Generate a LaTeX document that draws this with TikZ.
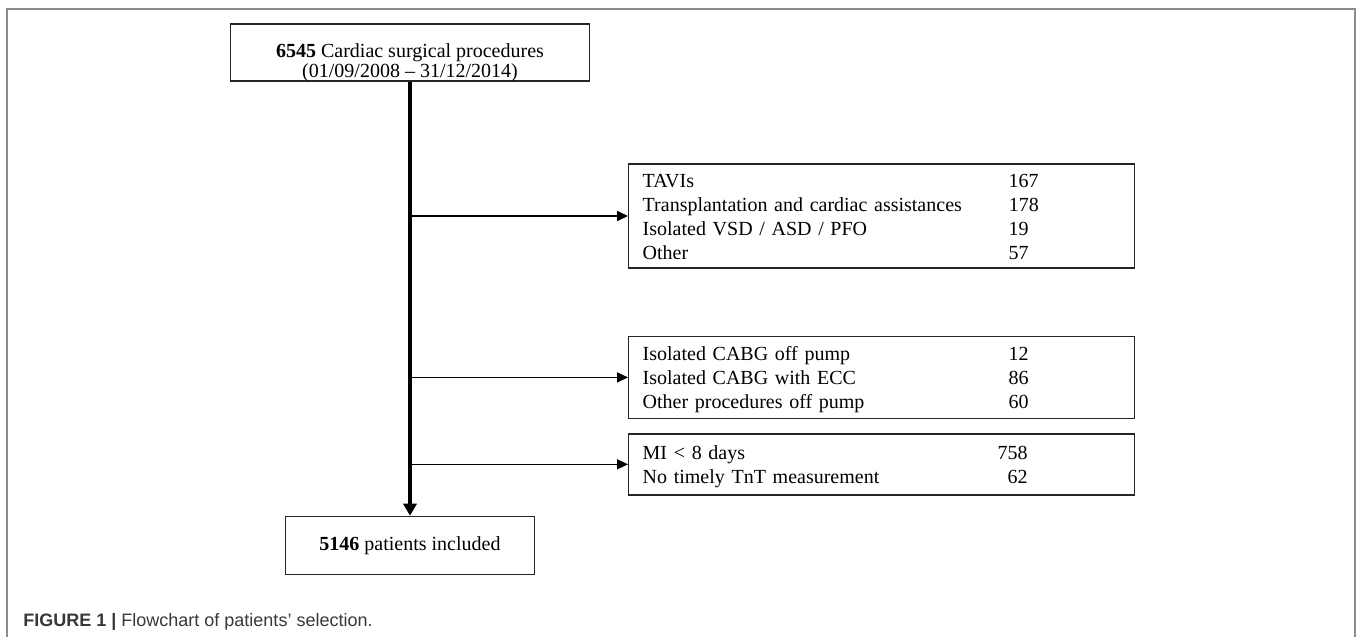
\documentclass[tikz,border=0pt]{standalone}
\usepackage{fontspec}
\setmainfont{Liberation Serif}
\setsansfont{Liberation Sans}
\usetikzlibrary{positioning,arrows.meta}

\newcommand{\listrow}[2]{\makebox[183pt][l]{#1}#2}
\newcommand{\listrowr}[2]{\makebox[177.5pt][l]{#1}\makebox[15pt][r]{#2}}
\newcommand{\topgap}{\rule{0pt}{10.8pt}}

\begin{document}
\begin{tikzpicture}[x=0.5pt,y=-0.5pt,
  >={Triangle[length=5.5pt,width=5pt]},
  mainbox/.style={
    rectangle,
    draw=black!85,
    line width=0.7pt,
    inner sep=0pt,
  },
  listbox/.style={
    rectangle,
    draw=black!85,
    line width=0.7pt,
    inner xsep=7pt,
    inner ysep=0pt,
    text width=239pt,
    align=left,
  },
  flowline/.style={line width=2pt,-{Triangle[length=6pt,width=6.5pt]}},
  branchline/.style={line width=0.8pt,->},
  framestyle/.style={draw=black!45,line width=0.8pt}]
\useasboundingbox (0,0) rectangle (1358,637);
% outer frame, open at the bottom
\draw[framestyle] (7,637) -- (7,9) -- (1355,9) -- (1355,637);
\node[mainbox,minimum width=179.5pt] (total) at (410,52.5)
  {\raisebox{0pt}[16.5pt][12pt]{\begin{tabular}[t]{@{}c@{}}
    \textbf{6545} Cardiac surgical procedures\\[-2pt]
    (01/09/2008 -- 31/12/2014)\end{tabular}}};
\node[mainbox,minimum width=124.5pt,minimum height=29pt] (included) [below=217pt of total]
  {\textbf{5146} patients included};
\node[listbox,minimum height=52pt,anchor=west] (tavi) at (628,216)
  {\topgap\listrow{TAVIs}{167}\\
   \listrow{Transplantation and cardiac assistances}{178}\\
   \listrow{Isolated VSD / ASD / PFO}{19}\\
   \listrow{Other}{57}\strut};
\node[listbox,minimum height=41pt] (cabg) [below right=33.5pt and 0pt of tavi.south west]
  {\topgap\listrow{Isolated CABG off pump}{12}\\
   \listrow{Isolated CABG with ECC}{86}\\
   \listrow{Other procedures off pump}{60}\strut};
\node[listbox,minimum height=30.5pt] (mi) [below right=7pt and 0pt of cabg.south west]
  {\topgap\listrowr{MI < 8 days}{758}\\
   \listrowr{No timely TnT measurement}{62}\strut};
\path (total) edge[flowline] (included)
  (total.south |- tavi.west) edge[branchline] (tavi.west)
  (total.south |- cabg.west) edge[branchline] (cabg.west)
  (total.south |- mi.west) edge[branchline] (mi.west);
\node[anchor=base west,inner sep=0pt,text=black!78,
  font=\sffamily\fontsize{9}{11}\selectfont] (caption) at (23,626.5)
  {\textbf{FIGURE 1 |} Flowchart of patients' selection.};
\end{tikzpicture}
\end{document}
